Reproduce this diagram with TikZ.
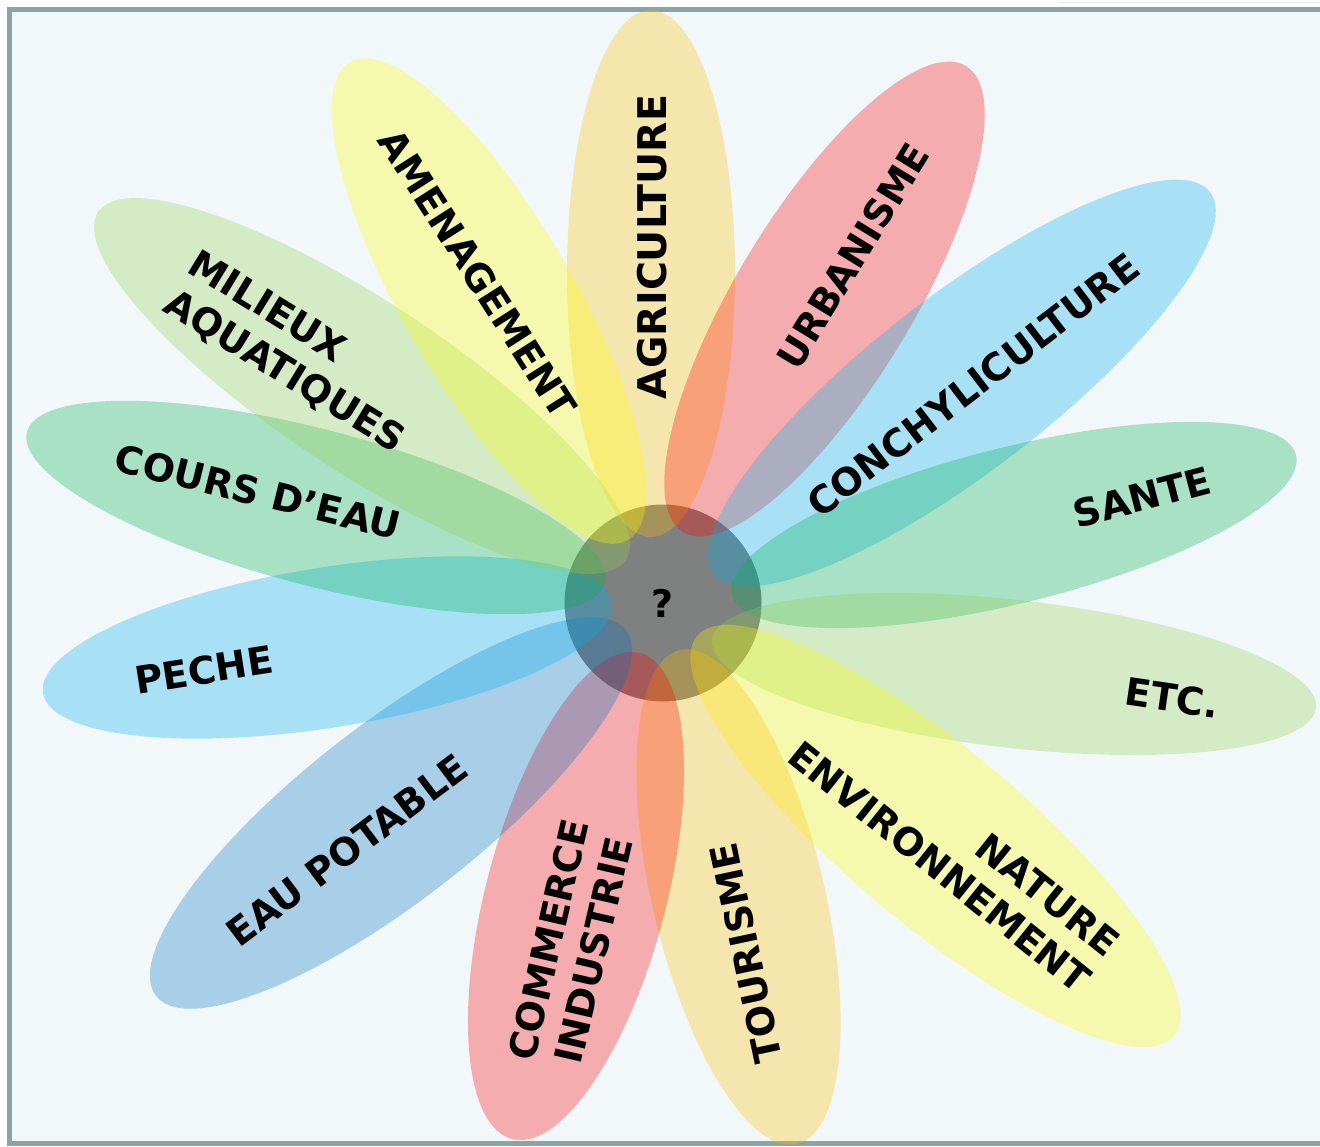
\documentclass[tikz,border=0pt]{standalone}
\usepackage{fontspec}
\setmainfont{DejaVu Sans}
\definecolor{frm}{RGB}{136,164,164}
\definecolor{bgc}{RGB}{242,247,250}
\definecolor{cgold}{RGB}{255,192,0}
\definecolor{cred}{RGB}{255,0,0}
\definecolor{clblue}{RGB}{0,176,240}
\definecolor{cgreen}{RGB}{0,176,80}
\definecolor{clgreen}{RGB}{146,208,80}
\definecolor{cyellow}{RGB}{255,255,0}
\definecolor{cblue}{RGB}{0,112,192}
\definecolor{cgray}{RGB}{127,128,128}
\definecolor{ctopline}{RGB}{228,234,236}
% petal: colour, inner x, inner y, outer x, outer y, half width
\newcommand\petal[6]{%
  \pgfmathsetmacro\pcx{(#2+#4)/2}%
  \pgfmathsetmacro\pcy{(#3+#5)/2}%
  \pgfmathsetmacro\pra{veclen(#4-#2,#5-#3)/2}%
  \pgfmathsetmacro\pang{atan2(#3-#5,#4-#2)}%
  \fill[petalfill=#1, rotate around={\pang:(\pcx,\pcy)}] (\pcx,\pcy) ellipse [x radius=\pra, y radius=#6];%
}
\begin{document}
\begin{tikzpicture}[x=1pt,y=-1pt,
  petalfill/.style={fill=#1, fill opacity=0.3},
  lab/.style={font=\fontsize{38}{46}\selectfont\bfseries, inner sep=0pt, text=black},
  hubstyle/.style={circle, fill=cgray, minimum size=197pt, inner sep=0pt}]
\useasboundingbox (0,0) rectangle (1320,1147);
\fill[white] (0,0) rectangle (1320,1147);
\draw[draw=ctopline, line width=1pt] (1058,3) -- (1320,3);
\draw[frm, line width=5pt, fill=bgc] (9.5,9.5) rectangle (1345,1143.5);
\node[hubstyle] (hub) at (663,603) {};
% petals
\petal{cgold}{651}{537}{651}{10}{84}
\petal{cred}{683}{532}{966}{66}{88}
\petal{clblue}{714}{574}{1210}{192}{88}
\petal{cgreen}{732}{595}{1296}{455}{78}
\petal{clgreen}{712}{640}{1316}{708}{74}
\petal{cyellow}{697}{636}{1174}{1036}{88}
\petal{cgold}{680}{650}{797}{1144}{86}
\petal{cred}{640}{653}{512}{1139}{90}
\petal{cblue}{626}{630}{156}{996}{88}
\petal{clblue}{612}{602}{43}{693}{80}
\petal{cgreen}{605}{583}{27}{432}{78}
\petal{clgreen}{626}{560}{98}{212}{85}
\petal{cyellow}{628}{540}{350}{62}{85}
% labels
\node[lab] (q) at (hub) {?};
\node[lab, font=\fontsize{39.5}{46}\selectfont\bfseries, rotate=90] (agri) at (652,247) {AGRICULTURE};
\node[lab, rotate=-57.5] (amen) at (478,274) {AMENAGEMENT};
\node[lab, rotate=-31.5, align=left] (mil) at (296,353) {MILIEUX\\AQUATIQUES};
\node[lab, rotate=-13.8] (cours) at (258,492) {COURS D’EAU};
\node[lab, rotate=8.9] (peche) at (204,670) {PECHE};
\node[lab, rotate=37] (eaup) at (347,850) {EAU POTABLE};
\node[lab, rotate=77, align=center] (comm) at (571,945) {COMMERCE\\INDUSTRIE};
\node[lab, rotate=102] (tour) at (746,953) {TOURISME};
\node[lab, rotate=-38.7, align=right] (nat) at (954,849) {NATURE\\ENVIRONNEMENT};
\node[lab, rotate=-8.3] (etc) at (1172,698) {ETC.};
\node[lab, rotate=14.7] (sante) at (1142,497) {SANTE};
\node[lab, rotate=37.4] (conch) at (973,385) {CONCHYLICULTURE};
\node[lab, rotate=58.5] (urb) at (853,256) {URBANISME};
\end{tikzpicture}
\end{document}
